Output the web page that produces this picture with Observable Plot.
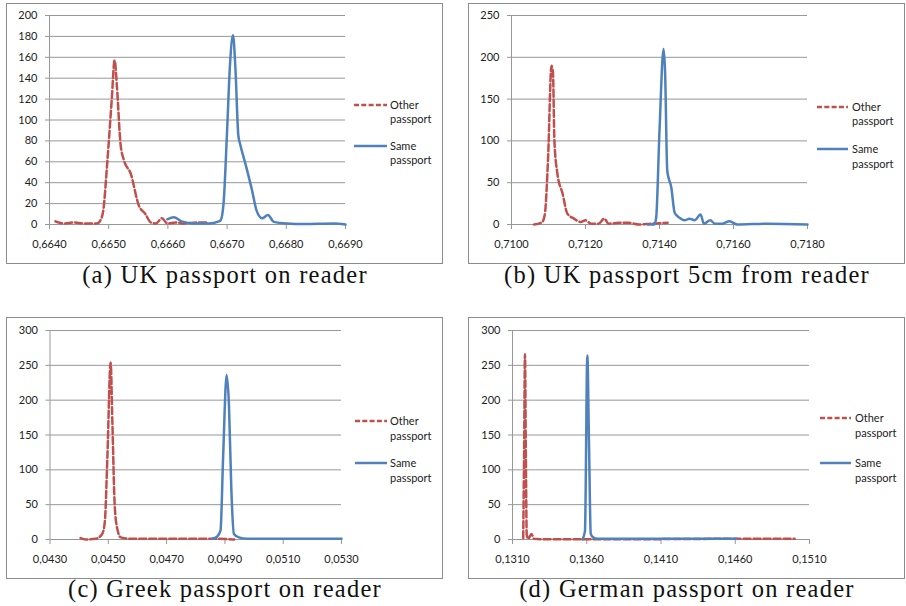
<!DOCTYPE html>
<html>
<head>
<meta charset="utf-8">
<script src="https://cdn.jsdelivr.net/npm/d3@7"></script>
<script src="https://cdn.jsdelivr.net/npm/@observablehq/plot@0.6"></script>
<style>
  html, body { margin: 0; padding: 0; background: #fff; }
  #root { position: relative; width: 906px; height: 606px; overflow: hidden; }
  .panel { position: absolute; box-sizing: border-box; border: 1px solid #8c8c8c; background: #fff; }
  .panel svg { display: block; }
  #captions { position: absolute; left: 0; top: 0; pointer-events: none; }
</style>
</head>
<body>
<div id="root"></div>
<script>
// Distance distributions: [distance, count] pairs per series.

// (a) UK passport on reader
const ukReaderOther = [[0.66410,3],[0.66424,1],[0.66441,2],[0.66458,1],[0.66472,1],[0.66480,1],[0.66486,4],[0.66491,14],[0.66497,55],[0.66505,118],[0.66510,157],[0.66514,131],[0.66520,77],[0.66526,61],[0.66537,49],[0.66551,18],[0.66562,10],[0.66571,2],[0.66580,1],[0.66590,6],[0.66599,1],[0.66613,2],[0.66627,1],[0.66650,2],[0.66669,2]];
const ukReaderSame = [[0.66599,5],[0.66610,7],[0.66623,3],[0.66645,1],[0.66669,1],[0.66686,3],[0.66689,4],[0.66694,20],[0.66700,90],[0.66705,154],[0.66710,181],[0.66714,150],[0.66719,85],[0.66722,77],[0.66731,58],[0.66742,33],[0.66750,13],[0.66759,6],[0.66769,9],[0.66779,2.5],[0.66801,1],[0.66830,0.5],[0.66880,1],[0.66900,0]];
const ukReaderXTicks = [0.6640,0.6650,0.6660,0.6670,0.6680,0.6690];
const ukReaderYTicks = [0,20,40,60,80,100,120,140,160,180,200];

// (b) UK passport 5cm from reader
const ukFarOther = [[0.71061,0],[0.71083,3],[0.71090,12],[0.71099,81],[0.71108,190],[0.71112,182],[0.71116,100],[0.71124,61],[0.71138,37],[0.71151,13],[0.71169,7],[0.71187,3],[0.71200,5],[0.71215,1],[0.71235,1],[0.71251,7],[0.71262,1],[0.71290,2],[0.71318,2],[0.71345,0],[0.71377,1],[0.71422,2]];
const ukFarSame = [[0.71369,0],[0.71386,0],[0.71391,8],[0.71400,112],[0.71411,210],[0.71415,184],[0.71421,64],[0.71432,44],[0.71441,14],[0.71454,8],[0.71468,5],[0.71481,7],[0.71495,5],[0.71511,12],[0.71520,1],[0.71537,5],[0.71550,1],[0.71570,1],[0.71589,4],[0.71610,0],[0.71690,1],[0.71800,0]];
const ukFarXTicks = [0.7100,0.7120,0.7140,0.7160,0.7180];
const ukFarYTicks = [0,50,100,150,200,250];

// (c) Greek passport on reader
const greekOther = [[0.04405,2],[0.04422,0],[0.04456,1],[0.04479,8],[0.04488,25],[0.04497,120],[0.04508,254],[0.04514,168],[0.04522,49],[0.04531,15],[0.04543,3],[0.04577,1],[0.04700,1],[0.04863,1],[0.04932,0]];
const greekSame = [[0.04856,1],[0.04873,4],[0.04885,13],[0.04894,120],[0.04906,236],[0.04914,192],[0.04922,73],[0.04931,8],[0.04948,3],[0.04976,1],[0.05100,1],[0.05300,1]];
const greekXTicks = [0.0430,0.0450,0.0470,0.0490,0.0510,0.0530];
const greekYTicks = [0,50,100,150,200,250,300];

// (d) German passport on reader
const germanOther = [[0.13172,2],[0.13178,120],[0.13184,266],[0.13190,120],[0.13196,6],[0.13206,1],[0.13228,8],[0.13245,1],[0.13300,0.5],[0.13400,0.5],[0.14000,0.5],[0.14600,1],[0.15000,1]];
const germanSame = [[0.13571,0],[0.13588,12],[0.13604,264],[0.13615,140],[0.13627,8],[0.13643,3],[0.13672,1],[0.14000,1],[0.14610,1]];
const germanXTicks = [0.1310,0.1360,0.1410,0.1460,0.1510];
const germanYTicks = [0,50,100,150,200,250,300];

const seriesNames = ["Other passport", "Same passport"];
const captions = [
  "(a) UK passport on reader",
  "(b) UK passport 5cm from reader",
  "(c) Greek passport on reader",
  "(d) German passport on reader"
];

const RED = "#c0504d", BLUE = "#4f81bd", GRID = "#979797", INK = "#222";
const DASH = "7 3";
const fmt = d => d.toFixed(4).replace(".", ",");

// Page layout (pixel boxes of the framed charts and their plot areas).
const panels = [
  {other: ukReaderOther, same: ukReaderSame, xTicks: ukReaderXTicks, yTicks: ukReaderYTicks,
   box: [6, 3, 443, 264], area: [49, 15, 345, 224],
   legend: {x0: 354, x1: 387, tx: 390, ys: [105, 119, 146, 160]},
   caption: {x: 225, y: 283}},
  {other: ukFarOther, same: ukFarSame, xTicks: ukFarXTicks, yTicks: ukFarYTicks,
   box: [468, 3, 905, 264], area: [511, 15, 807, 224],
   legend: {x0: 817, x1: 848, tx: 852, ys: [107, 121, 149, 164]},
   caption: {x: 687, y: 283}},
  {other: greekOther, same: greekSame, xTicks: greekXTicks, yTicks: greekYTicks,
   box: [6, 317, 443, 579], area: [49.5, 330, 341, 539],
   legend: {x0: 355, x1: 387, tx: 390, ys: [421, 436, 463, 478]},
   caption: {x: 225, y: 597}},
  {other: germanOther, same: germanSame, xTicks: germanXTicks, yTicks: germanYTicks,
   box: [468, 317, 905, 579], area: [512, 330, 809, 539],
   legend: {x0: 820, x1: 851, tx: 855, ys: [418, 433, 463, 478]},
   caption: {x: 687, y: 597}}
];

const root = document.getElementById("root");

panels.forEach(p => {
  const [bx0, by0, bx1, by1] = p.box;
  const [ax0, ay0, ax1, ay1] = p.area;
  const ox = bx0 + 1, oy = by0 + 1;          // inner origin of the frame
  const w = bx1 - bx0 - 2, h = by1 - by0 - 2;

  const div = document.createElement("div");
  div.className = "panel";
  Object.assign(div.style, {left: bx0 + "px", top: by0 + "px", width: (bx1 - bx0) + "px", height: (by1 - by0) + "px"});

  const xDomain = [p.xTicks[0], p.xTicks[p.xTicks.length - 1]];
  const yDomain = [0, p.yTicks[p.yTicks.length - 1]];

  const chart = Plot.plot({
    width: w,
    height: h,
    marginLeft: ax0 - ox,
    marginRight: w - (ax1 - ox),
    marginTop: ay0 - oy,
    marginBottom: h - (ay1 - oy),
    style: {fontFamily: "Lato, 'Open Sans', sans-serif", fontSize: "11px", background: "transparent", overflow: "visible"},
    x: {domain: xDomain},
    y: {domain: yDomain},
    marks: [
      Plot.gridY(p.yTicks, {stroke: GRID, strokeOpacity: 1}),
      Plot.ruleX([xDomain[0]], {stroke: GRID}),
      Plot.axisY({ticks: p.yTicks, tickSize: 4, tickPadding: 8, stroke: GRID, fill: INK, label: null}),
      Plot.axisX({ticks: p.xTicks, tickFormat: fmt, tickSize: 5, tickPadding: 11, stroke: GRID, fill: INK, label: null}),
      Plot.line(p.other, {x: d => d[0], y: d => d[1], stroke: RED, strokeWidth: 2.5, strokeDasharray: DASH, curve: "monotone-x", className: "other-line"}),
      Plot.line(p.same, {x: d => d[0], y: d => d[1], stroke: BLUE, strokeWidth: 2.5, curve: "monotone-x"})
    ]
  });

  const svg = d3.select(chart);
  // make sure the dashed style reaches the path element
  svg.selectAll(".other-line path, g.other-line path, path.other-line").attr("stroke-dasharray", DASH);

  // Legend beside the plot area
  const g = svg.append("g")
    .attr("font-family", "Lato, 'Open Sans', sans-serif")
    .attr("font-size", 11)
    .attr("fill", INK)
    .attr("text-anchor", "start");
  const L = p.legend;
  const entries = [
    {color: RED, dash: "5 2.3", lines: seriesNames[0].split(" "), y: [L.ys[0], L.ys[1]]},
    {color: BLUE, dash: null, lines: seriesNames[1].split(" "), y: [L.ys[2], L.ys[3]]}
  ];
  entries.forEach(e => {
    g.append("line")
      .attr("x1", L.x0 - ox).attr("x2", L.x1 - ox)
      .attr("y1", e.y[0] - oy).attr("y2", e.y[0] - oy)
      .attr("stroke", e.color).attr("stroke-width", 2.5)
      .attr("stroke-dasharray", e.dash);
    e.lines.forEach((t, i) => {
      g.append("text").attr("x", L.tx - ox).attr("y", e.y[i] - oy).attr("dy", "0.35em").text(t);
    });
  });

  div.appendChild(chart);
  root.appendChild(div);
});

// Sub-figure captions
const cap = d3.select(root).append("svg").attr("id", "captions").attr("width", 906).attr("height", 606);
panels.forEach((p, i) => {
  cap.append("text")
    .attr("x", p.caption.x).attr("y", p.caption.y)
    .attr("text-anchor", "middle")
    .attr("font-family", "'Liberation Serif', 'DejaVu Serif', serif")
    .attr("font-size", 24.5)
    .attr("letter-spacing", 1.25)
    .attr("fill", "#111")
    .text(captions[i]);
});
</script>
</body>
</html>
